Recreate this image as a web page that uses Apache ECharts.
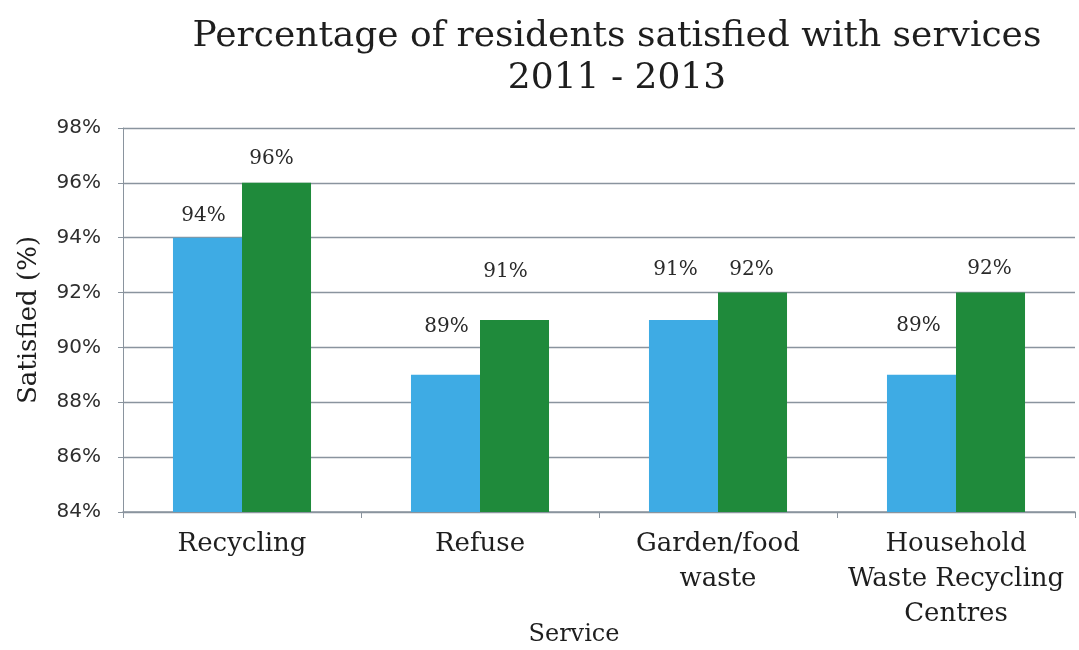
<!DOCTYPE html>
<html>
<head>
<meta charset="utf-8">
<script src="https://cdn.jsdelivr.net/npm/echarts@6/dist/echarts.min.js"></script>
<style>
  html, body { margin: 0; padding: 0; background: #ffffff; }
  #chart { width: 1079px; height: 650px; }
</style>
</head>
<body>
<div id="chart"></div>
<script>
// Satisfaction with council services, 2011 vs 2013
const services = ['Recycling', 'Refuse', 'Garden/food\nwaste', 'Household\nWaste Recycling\nCentres'];
const satisfied2011 = [94, 89, 91, 89];
const satisfied2013 = [96, 91, 92, 92];
const yTicks = [84, 86, 88, 90, 92, 94, 96, 98];

// hand-placed value labels (dx, dy in px from the default "top" spot)
const nudge2011 = [[-4, -7], [1, -33], [-8, -35], [-3, -34]];
const nudge2013 = [[-5, -9], [-9, -33], [-1, -8], [-1, -9]];

const serif = '"DejaVu Serif", "Liberation Serif", serif';
const sans = '"DejaVu Sans", "Liberation Sans", sans-serif';

function withLabels(values, nudges) {
  return values.map((v, i) => ({ value: v, label: { offset: nudges[i] } }));
}

const labelStyle = {
  show: true,
  position: 'top',
  distance: 5,
  fontFamily: serif,
  fontSize: 20,
  lineHeight: 20,
  color: '#2a2a2a',
  formatter: p => p.value + '%'
};

const chart = echarts.init(document.getElementById('chart'));
chart.setOption({
  backgroundColor: '#ffffff',
  animation: false,
  title: {
    text: 'Percentage of residents satisfied with services\n2011 - 2013',
    left: 612,
    textAlign: 'center',
    top: 11,
    textStyle: {
      fontFamily: serif,
      fontSize: 36,
      fontWeight: 'normal',
      lineHeight: 42,
      color: '#1e1e1e'
    }
  },
  grid: {
    left: 123, right: 4, top: 128, height: 384,
    containLabel: false, outerBoundsMode: 'none'
  },
  xAxis: {
    type: 'category',
    data: services,
    name: 'Service',
    nameLocation: 'middle',
    nameGap: 111,
    nameMoveOverlap: false,
    nameTextStyle: {
      fontFamily: serif, fontSize: 24, color: '#1e1e1e', padding: [0, 50, 0, 0]
    },
    axisLine: { lineStyle: { color: '#8a949e', width: 1.5 } },
    axisTick: { show: true, length: 6, lineStyle: { color: '#8a949e' } },
    axisLabel: {
      fontFamily: serif, fontSize: 26, color: '#1e1e1e',
      lineHeight: 35, margin: 15, interval: 0
    }
  },
  yAxis: {
    type: 'value',
    min: yTicks[0],
    max: yTicks[yTicks.length - 1],
    interval: 2,
    name: 'Satisfied (%)',
    nameLocation: 'middle',
    nameGap: 81,
    nameMoveOverlap: false,
    nameTextStyle: { fontFamily: serif, fontSize: 26, color: '#1e1e1e' },
    axisLine: { show: true, lineStyle: { color: '#8a949e', width: 1 } },
    axisTick: { show: true, length: 5, lineStyle: { color: '#8a949e' } },
    axisLabel: {
      fontFamily: sans, fontSize: 20, color: '#2e2e2e', margin: 22,
      formatter: v => v + '%'
    },
    splitLine: { lineStyle: { color: '#8a949e', width: 1.3 } }
  },
  series: [
    {
      name: '2011',
      type: 'bar',
      data: withLabels(satisfied2011, nudge2011),
      barGap: '0%',
      barCategoryGap: '42%',
      itemStyle: { color: '#3eabe4' },
      label: labelStyle
    },
    {
      name: '2013',
      type: 'bar',
      data: withLabels(satisfied2013, nudge2013),
      barGap: '0%',
      barCategoryGap: '42%',
      itemStyle: { color: '#1f8a3b' },
      label: labelStyle
    }
  ]
});
</script>
</body>
</html>
